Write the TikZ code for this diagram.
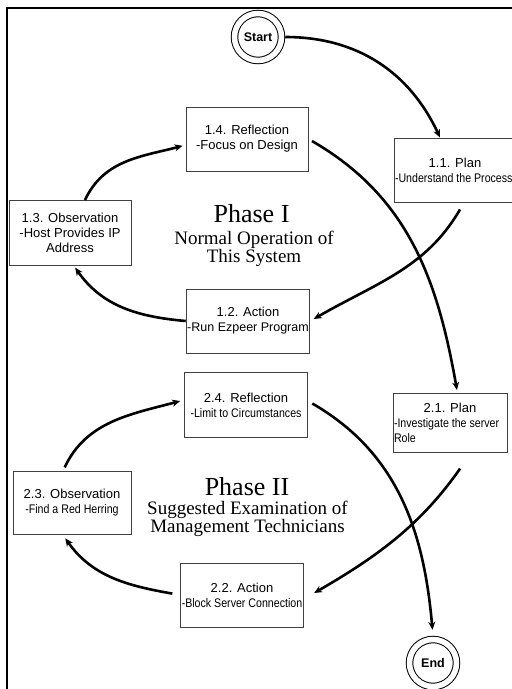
\documentclass[tikz,border=0pt]{standalone}
\usepackage{fontspec}
\setmainfont{Liberation Serif}
\setsansfont{Liberation Sans}
\newfontfamily\narrowsf[FakeStretch=0.85]{Liberation Sans}
\newcommand\nar{\narrowsf\fontsize{12.5}{15}\selectfont}
\usetikzlibrary{arrows.meta}

\begin{document}
\begin{tikzpicture}[x=1pt,y=1pt,
        box/.style={draw=black!75, line width=1pt, minimum width=122pt, minimum height=64pt,
            inner sep=1pt, align=center, font=\sffamily\fontsize{13}{15}\selectfont},
        term/.style={draw, circle, double, double distance=5.5pt, line width=1pt, minimum size=47pt,
            inner sep=0pt, outer sep=3.75pt, font=\sffamily\bfseries\fontsize{12.5}{14}\selectfont},
        flow/.style={line width=2.6pt, -{Stealth[length=8pt,width=7pt]}},
        phase/.style={anchor=base, inner sep=0pt, font=\fontsize{26}{28}\selectfont},
        phasesub/.style={anchor=north, inner sep=0pt, align=center, font=\fontsize{19}{18}\selectfont}]
        \useasboundingbox (0,0) rectangle (512,-689);
        \clip (0,0) rectangle (512,-689);
        \draw[line width=2pt] (7,-700) -- (7,-8) -- (520,-8);

        % terminals
        \node[term] (start) at (258,-37) {Start};
        \node[term] (stop) at (433,-663) {End};

        % phase I
        \node[box] (p11) at (455,-170)
            {1.1. Plan\\\makebox[120pt][l]{\nar -Understand the Process}};
        \node[box] (a12) at (248,-321) {1.2. Action\\\fontsize{12.5}{15}\selectfont -Run Ezpeer Program};
        \node[box, minimum height=65pt] (o13) at (70,-233) {1.3. Observation\\-Host Provides IP\\Address};
        \node[box] (r14) at (247,-139) {1.4. Reflection\\-Focus on Design};
        \node[phase] (ph1) at (251.5,-222) {Phase I};
        \node[phasesub] (ph1s) at (254,-230.6) {Normal Operation of\\This System};

        % phase II
        \node[box, minimum width=114pt, minimum height=59pt] (p21) at (450,-423)
            {2.1. Plan\\\makebox[112pt][l]{\nar -Investigate the server}\\\makebox[112pt][l]{\nar Role}};
        \node[box] (a22) at (242,-595) {2.2. Action\\\nar -Block Server Connection};
        \node[box, minimum width=118pt, minimum height=63pt] (o23) at (72,-503) {2.3. Observation\\\nar -Find a Red Herring};
        \node[box, minimum width=123pt, minimum height=65pt] (r24) at (246,-405) {2.4. Reflection\\\nar -Limit to Circumstances};
        \node[phase] (ph2) at (247,-495) {Phase II};
        \node[phasesub] (ph2s) at (247.5,-500.6) {Suggested Examination of\\Management Technicians};

        % cycle arrows
        \draw[flow] (start.east) to[out=0,in=115] ([xshift=-15pt]p11.north);
        \draw[flow, shorten <=8pt, shorten >=4pt] ([xshift=9pt]p11.south) to[out=-120,in=30] (a12.east);
        \draw[flow, shorten >=2pt] (a12.west) to[out=175,in=-55] ([xshift=4pt]o13.south);
        \draw[flow, shorten >=3pt] ([xshift=15pt]o13.north) to[out=65,in=195] ([yshift=-6pt]r14.west);
        \draw[flow, shorten <=4pt, shorten >=3pt] (r14.east) to[out=-30,in=100] ([xshift=7.5pt]p21.north);
        \draw[flow, shorten <=19pt, shorten >=12pt] ([xshift=21pt]p21.south) to[out=-125,in=30] ([yshift=-4pt]a22.east);
        \draw[flow, shorten <=8pt, shorten >=4pt] (a22.west) to[out=170,in=-55] ([xshift=-9pt]o23.south);
        \draw[flow, shorten <=4pt, shorten >=4pt] ([xshift=-9pt]o23.north) to[out=65,in=195] ([yshift=5pt]r24.west);
        \draw[flow, shorten <=5pt, shorten >=6pt] ([yshift=4pt]r24.east) to[out=-30,in=95] (stop.north);
\end{tikzpicture}
\end{document}
